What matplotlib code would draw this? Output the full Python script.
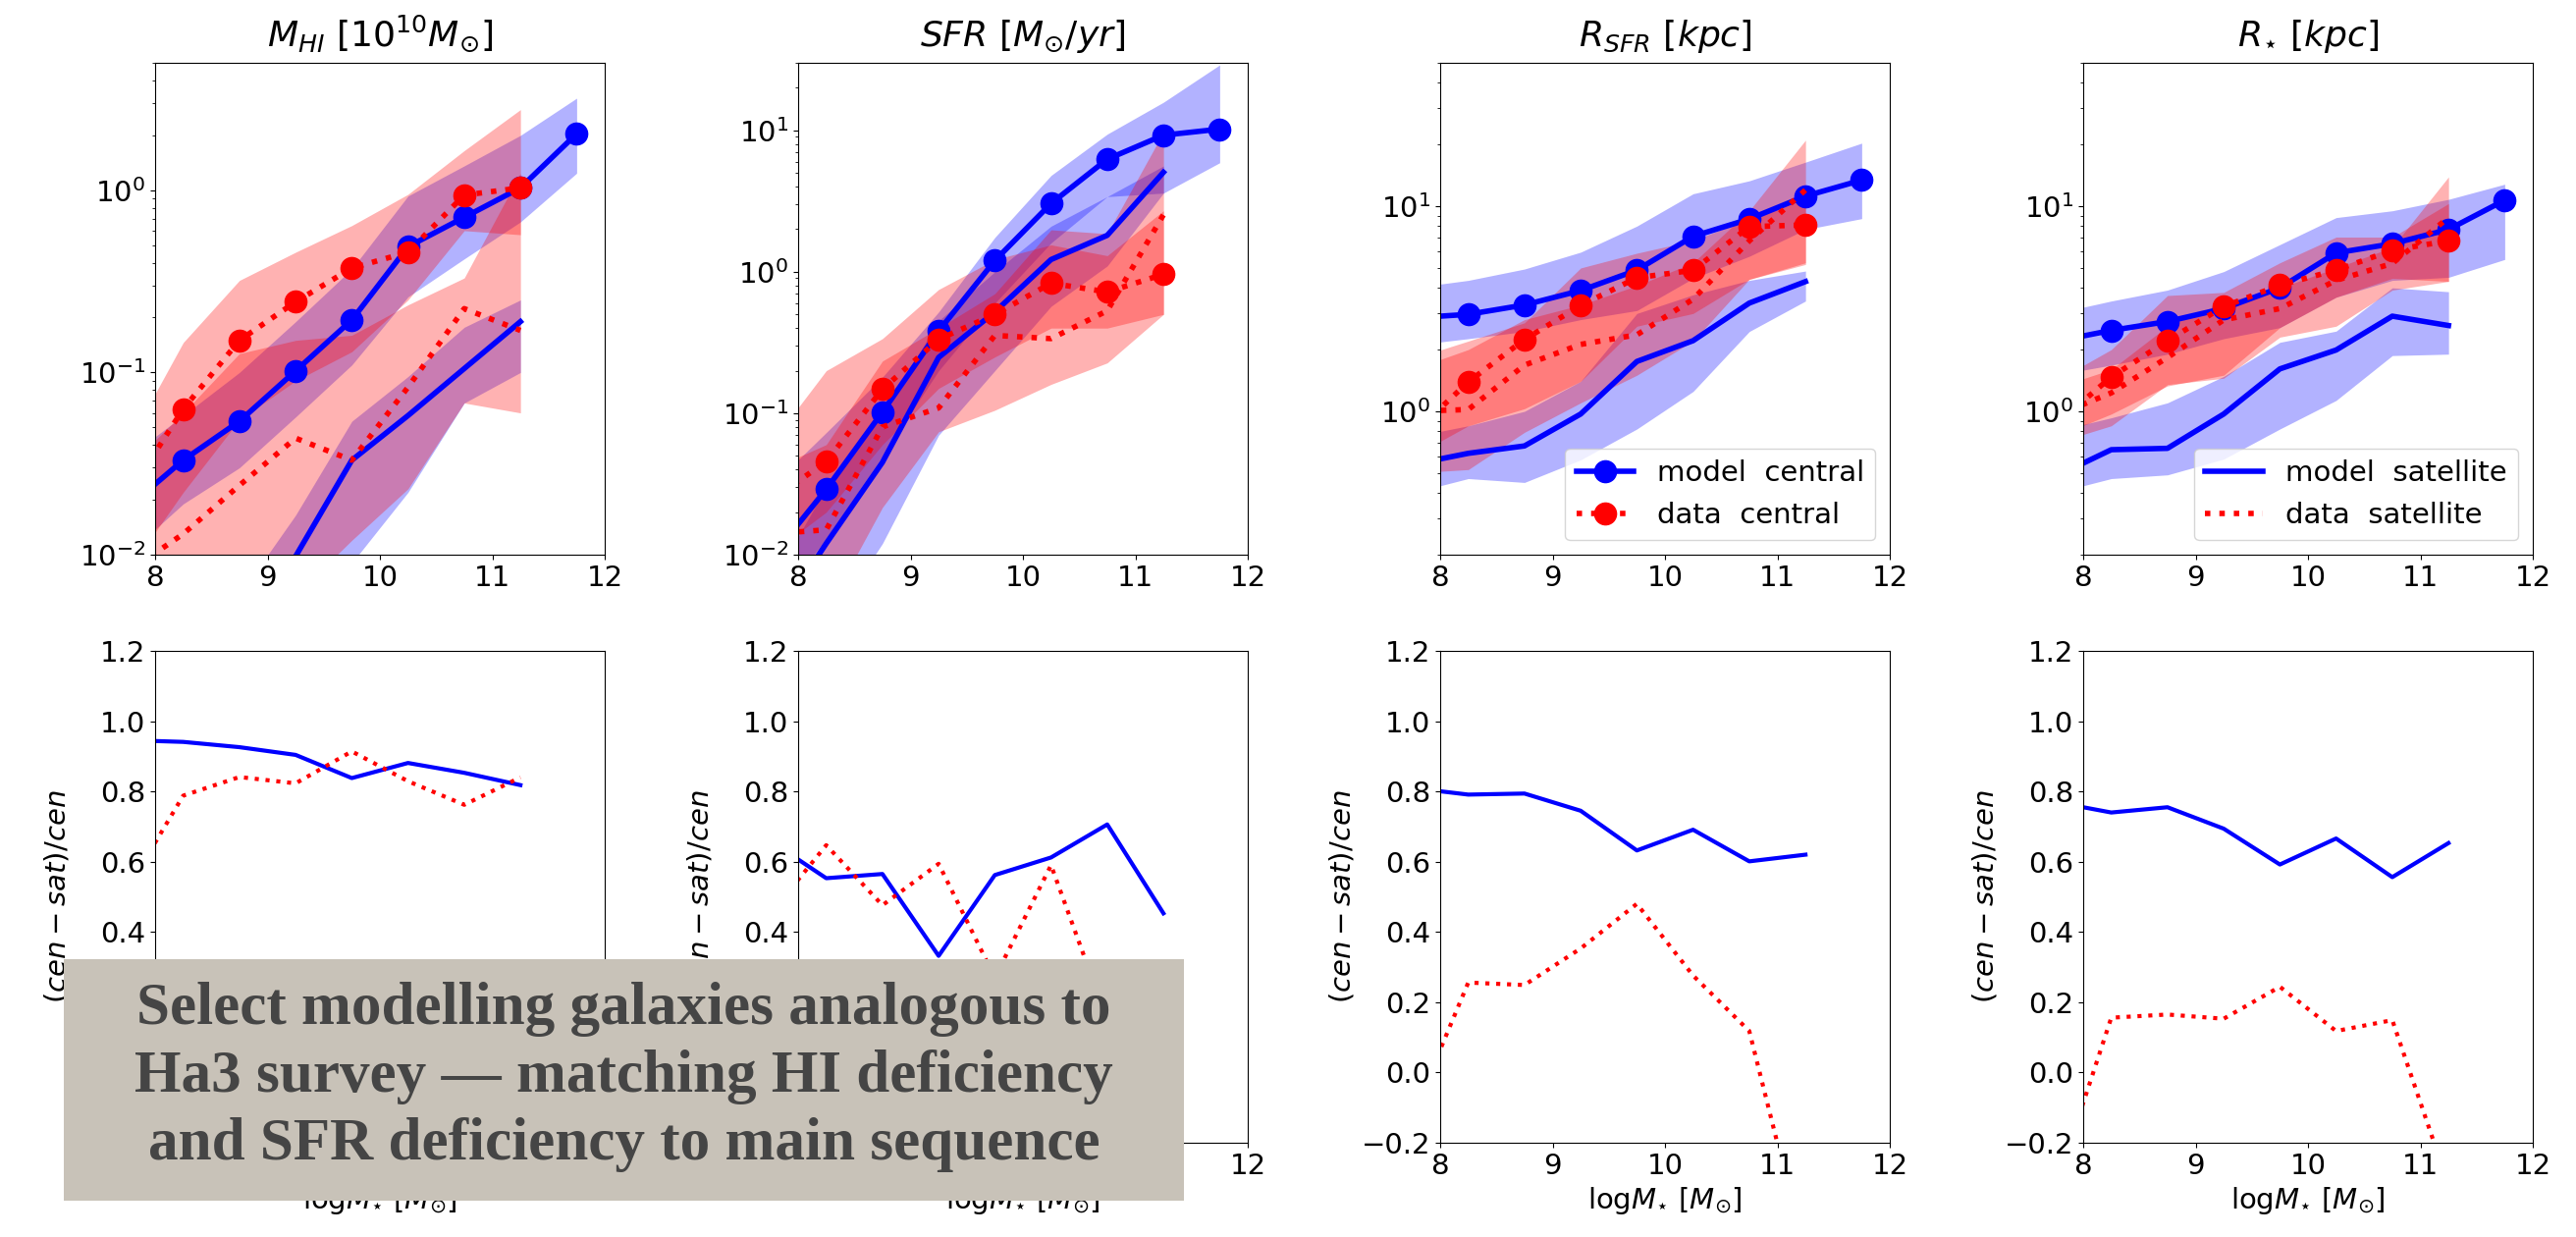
import matplotlib
matplotlib.use("Agg")
import matplotlib.pyplot as plt
from matplotlib.patches import Rectangle

plt.rcParams['font.size'] = 21

# bin centres (first bin sits just left of the axis and gets clipped)
x_cen = [7.75, 8.25, 8.75, 9.25, 9.75, 10.25, 10.75, 11.25, 11.75]
x_sat = [7.75, 8.25, 8.75, 9.25, 9.75, 10.25, 10.75, 11.25]

# ---- M_HI ----
hi_mc = [0.018, 0.033, 0.054, 0.102, 0.194, 0.49, 0.71, 1.03, 2.04]
hi_mc_lo = [0.010, 0.019, 0.030, 0.057, 0.11, 0.26, 0.42, 0.67, 1.24]
hi_mc_hi = [0.034, 0.058, 0.10, 0.19, 0.37, 0.93, 1.36, 2.0, 3.2]
hi_ms = [0.0005, 0.001, 0.003, 0.0098, 0.033, 0.058, 0.105, 0.19]
hi_ms_lo = [0.0001, 0.0003, 0.001, 0.003, 0.009, 0.022, 0.068, 0.1]
hi_ms_hi = [0.001, 0.002, 0.006, 0.0165, 0.054, 0.095, 0.177, 0.25]
hi_dc = [0.021, 0.063, 0.15, 0.244, 0.374, 0.457, 0.94, 1.03]
hi_dc_lo = [0.008, 0.022, 0.055, 0.09, 0.13, 0.25, 0.6, 0.57]
hi_dc_hi = [0.04, 0.146, 0.32, 0.457, 0.64, 0.95, 1.65, 2.77]
hi_ds = [0.008, 0.013, 0.024, 0.0436, 0.033, 0.083, 0.224, 0.17]
hi_ds_lo = [0.002, 0.003, 0.004, 0.006, 0.012, 0.023, 0.068, 0.06]
hi_ds_hi = [0.03, 0.06, 0.127, 0.15, 0.16, 0.235, 0.33, 1.24]

# ---- SFR ----
sfr_mc = [0.0093, 0.029, 0.102, 0.381, 1.2, 3.04, 6.25, 9.24, 10.2]
sfr_mc_lo = [0.004, 0.013, 0.05, 0.2, 0.6, 1.6, 3.4, 3.6, 5.9]
sfr_mc_hi = [0.03, 0.073, 0.18, 0.52, 1.75, 4.8, 9.4, 15.8, 29]
sfr_ms = [0.003, 0.012, 0.045, 0.248, 0.52, 1.22, 1.81, 5.05]
sfr_ms_lo = [0.001, 0.003, 0.012, 0.07, 0.2, 0.57, 1.1, 3.6]
sfr_ms_hi = [0.006, 0.03, 0.1, 0.45, 1.0, 2.1, 3.4, 5.6]
sfr_dc = [0.024, 0.0455, 0.148, 0.333, 0.5, 0.83, 0.72, 0.96]
sfr_dc_lo = [0.01, 0.02, 0.06, 0.15, 0.25, 0.4, 0.4, 0.5]
sfr_dc_hi = [0.06, 0.2, 0.337, 0.75, 1.22, 1.55, 1.3, 2.7]
sfr_ds = [0.014, 0.015, 0.08, 0.109, 0.355, 0.337, 0.53, 2.53]
sfr_ds_lo = [0.003, 0.004, 0.0216, 0.074, 0.105, 0.16, 0.227, 0.5]
sfr_ds_hi = [0.04, 0.06, 0.234, 0.4, 0.7, 1.98, 1.86, 9.7]

# ---- R_SFR ----
rsfr_mc = [2.85, 2.97, 3.3, 3.88, 4.88, 7.13, 8.66, 11.2, 13.4]
rsfr_mc_lo = [2.1, 2.26, 2.45, 2.8, 3.1, 4.45, 5.7, 7.7, 8.7]
rsfr_mc_hi = [4.0, 4.35, 4.94, 5.97, 8.0, 11.5, 13.3, 16.4, 20.3]
rsfr_ms = [0.55, 0.624, 0.678, 0.97, 1.75, 2.21, 3.37, 4.29]
rsfr_ms_lo = [0.4, 0.47, 0.45, 0.58, 0.82, 1.25, 2.45, 3.45]
rsfr_ms_hi = [0.75, 0.85, 1.0, 1.4, 3.0, 3.7, 4.35, 4.83]
rsfr_dc = [0.77, 1.39, 2.24, 3.28, 4.48, 4.87, 7.95, 8.1]
rsfr_dc_lo = [0.6, 0.85, 1.03, 1.4, 2.6, 3.0, 4.4, 5.2]
rsfr_dc_hi = [1.8, 2.2, 2.7, 5.0, 5.9, 6.8, 8.7, 11.0]
rsfr_ds = [1.0, 1.02, 1.68, 2.12, 2.36, 3.52, 6.78, 12.0]
rsfr_ds_lo = [0.5, 0.52, 0.79, 1.1, 1.5, 2.2, 4.4, 5.3]
rsfr_ds_hi = [1.6, 2.0, 2.8, 3.3, 4.1, 5.3, 9.5, 21.0]

# ---- R_star ----
rs_mc = [2.19, 2.48, 2.74, 3.17, 4.0, 5.92, 6.56, 7.7, 10.7]
rs_mc_lo = [1.5, 1.68, 1.9, 2.26, 2.56, 3.6, 4.35, 4.5, 5.5]
rs_mc_hi = [3.0, 3.45, 3.9, 4.8, 6.5, 8.8, 9.5, 10.8, 12.8]
rs_ms = [0.48, 0.65, 0.66, 0.97, 1.61, 1.99, 2.91, 2.62]
rs_ms_lo = [0.4, 0.47, 0.49, 0.585, 0.82, 1.13, 1.87, 1.9]
rs_ms_hi = [0.8, 0.93, 1.1, 1.48, 2.17, 2.46, 4.0, 3.83]
rs_dc = [0.86, 1.47, 2.21, 3.24, 4.12, 4.88, 6.1, 6.78]
rs_dc_lo = [0.75, 0.97, 1.33, 1.5, 2.56, 3.6, 4.45, 4.3]
rs_dc_hi = [1.4, 2.0, 3.67, 3.8, 5.3, 7.07, 7.07, 10.3]
rs_ds = [0.95, 1.23, 1.83, 2.79, 3.17, 4.35, 5.26, 8.8]
rs_ds_lo = [0.7, 0.85, 1.35, 1.45, 2.3, 2.6, 3.9, 4.3]
rs_ds_hi = [1.3, 1.6, 2.6, 3.4, 4.0, 5.0, 6.3, 13.9]

# ---- (cen - sat)/cen ----
frac_hi_model = [0.946, 0.941, 0.926, 0.904, 0.838, 0.881, 0.853, 0.818]
frac_hi_data = [0.52, 0.788, 0.841, 0.823, 0.914, 0.829, 0.762, 0.84]
frac_sfr_model = [0.66, 0.553, 0.565, 0.332, 0.562, 0.612, 0.706, 0.453]
frac_sfr_data = [0.45, 0.647, 0.476, 0.594, 0.27, 0.59, 0.15, 0.1]
frac_rsfr_model = [0.81, 0.791, 0.794, 0.745, 0.632, 0.691, 0.601, 0.62]
frac_rsfr_data = [-0.126, 0.256, 0.249, 0.353, 0.48, 0.276, 0.118, -0.52]
frac_rs_model = [0.77, 0.74, 0.755, 0.694, 0.592, 0.666, 0.556, 0.653]
frac_rs_data = [-0.33, 0.156, 0.165, 0.153, 0.244, 0.118, 0.149, -0.32]

titles = [r'$M_{HI}\ [10^{10}M_{\odot}]$', r'$SFR\ [M_{\odot}/yr]$',
          r'$R_{SFR}\ [kpc]$', r'$R_{\star}\ [kpc]$']
ylims = [(0.01, 5), (0.01, 30), (0.2, 50), (0.2, 50)]

panels = [
    (hi_mc, hi_mc_lo, hi_mc_hi, hi_ms, hi_ms_lo, hi_ms_hi,
     hi_dc, hi_dc_lo, hi_dc_hi, hi_ds, hi_ds_lo, hi_ds_hi),
    (sfr_mc, sfr_mc_lo, sfr_mc_hi, sfr_ms, sfr_ms_lo, sfr_ms_hi,
     sfr_dc, sfr_dc_lo, sfr_dc_hi, sfr_ds, sfr_ds_lo, sfr_ds_hi),
    (rsfr_mc, rsfr_mc_lo, rsfr_mc_hi, rsfr_ms, rsfr_ms_lo, rsfr_ms_hi,
     rsfr_dc, rsfr_dc_lo, rsfr_dc_hi, rsfr_ds, rsfr_ds_lo, rsfr_ds_hi),
    (rs_mc, rs_mc_lo, rs_mc_hi, rs_ms, rs_ms_lo, rs_ms_hi,
     rs_dc, rs_dc_lo, rs_dc_hi, rs_ds, rs_ds_lo, rs_ds_hi),
]
fracs = [(frac_hi_model, frac_hi_data), (frac_sfr_model, frac_sfr_data),
         (frac_rsfr_model, frac_rsfr_data), (frac_rs_model, frac_rs_data)]

fig = plt.figure(figsize=(26.24, 12.6), dpi=100)
lefts = [158, 813, 1467, 2122]
W, H = 2624.0, 1260.0

for i in range(4):
    mc, mc_lo, mc_hi, ms, ms_lo, ms_hi, dc, dc_lo, dc_hi, ds, ds_lo, ds_hi = panels[i]
    ax = fig.add_axes([lefts[i] / W, 1 - 565 / H, 458 / W, 501 / H])
    ax.fill_between(x_cen, mc_lo, mc_hi, color='b', alpha=0.3, lw=0)
    l1, = ax.plot(x_cen, mc, 'b-o', lw=4, ms=16, label='model  central')
    ax.fill_between(x_sat, ms_lo, ms_hi, color='b', alpha=0.3, lw=0)
    l2, = ax.plot(x_sat, ms, 'b-', lw=4, label='model  satellite')
    ax.fill_between(x_sat, dc_lo, dc_hi, color='r', alpha=0.3, lw=0)
    l3, = ax.plot(x_sat, dc, 'r:o', lw=4, ms=16, label='data  central')
    ax.fill_between(x_sat, ds_lo, ds_hi, color='r', alpha=0.3, lw=0)
    l4, = ax.plot(x_sat, ds, 'r:', lw=4, label='data  satellite')
    ax.set_yscale('log')
    ax.set_xlim(8, 12)
    ax.set_ylim(*ylims[i])
    ax.set_xticks([8, 9, 10, 11, 12])
    ax.set_title(titles[i], fontsize=26, pad=12)
    if i == 2:
        ax.legend(handles=[l1, l3], loc='lower right')
    if i == 3:
        ax.legend(handles=[l2, l4], loc='lower right')

    bx = fig.add_axes([lefts[i] / W, 1 - 1164 / H, 458 / W, 501 / H])
    bx.plot(x_sat, fracs[i][0], 'b-', lw=3)
    bx.plot(x_sat, fracs[i][1], 'r:', lw=3)
    bx.set_xlim(8, 12)
    bx.set_ylim(-0.2, 1.2)
    bx.set_xticks([8, 9, 10, 11, 12])
    bx.set_xlabel(r'$\mathrm{log}M_{\star}\ [M_{\odot}]$')
    bx.set_ylabel(r'$(cen-sat)/cen$')

# caption box laid over the lower left panels
fig.add_artist(Rectangle((65 / W, 1 - 1223 / H), 1141 / W, 246 / H,
                         transform=fig.transFigure, facecolor='#c8c2b8',
                         edgecolor='none', zorder=10))
fig.text((65 + 1141 / 2) / W, 1 - 1097 / H,
         'Select modelling galaxies analogous to\n'
         'Ha3 survey \u2014 matching HI deficiency\n'
         'and SFR deficiency to main sequence',
         ha='center', va='center', fontsize=44, fontweight='bold',
         family='Liberation Serif', color='#454545', linespacing=1.3,
         zorder=11)

plt.savefig("out.png", dpi=100)
